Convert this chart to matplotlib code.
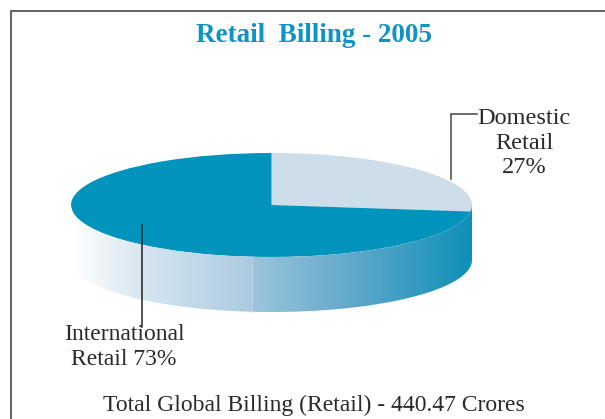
import matplotlib
matplotlib.use("Agg")
import matplotlib.pyplot as plt
import numpy as np
from matplotlib.colors import LinearSegmentedColormap
from matplotlib.patches import PathPatch
from matplotlib.path import Path

plt.rcParams['font.family'] = ['Liberation Serif', 'DejaVu Serif']

# data
shares = [27, 73]
slice_colors = ["#cddde9", "#0093bc"]
title = "Retail  Billing - 2005"
domestic_label = "Domestic\nRetail\n27%"
international_label = "International\nRetail 73%"
total_label = "Total Global Billing (Retail) - 440.47 Crores"

W, H = 605, 419
cx, cy, rx, ry = 271.5, 205, 200.5, 52
depth = 55

fig = plt.figure(figsize=(W / 100, H / 100), dpi=100)
fig.patch.set_facecolor("white")

# pie top, squashed into its own axes
ax_pie = fig.add_axes([(cx - rx) / W, 1 - (cy + ry) / H, 2 * rx / W, 2 * ry / H], zorder=1)
ax_pie.pie(shares, colors=slice_colors, startangle=90, counterclock=False, radius=1,
           wedgeprops={"linewidth": 0})
ax_pie.set_aspect("auto")
ax_pie.set_xlim(-1, 1)
ax_pie.set_ylim(-1, 1)
ax_pie.axis("off")

# everything else in pixel coords
ax = fig.add_axes([0, 0, 1, 1], zorder=2)
ax.set_xlim(0, W)
ax.set_ylim(H, 0)
ax.axis("off")

# side of the cylinder: gradient clipped to lower half of ellipse
t = np.linspace(0, np.pi, 200)
xs = cx + rx * np.cos(t)
ys = cy + ry * np.sin(t)
verts = np.vstack([np.c_[xs, ys], np.c_[xs[::-1], ys[::-1] + depth], [xs[0], ys[0]]])
codes = [Path.MOVETO] + [Path.LINETO] * (len(verts) - 2) + [Path.CLOSEPOLY]
side = PathPatch(Path(verts, codes), facecolor="none", edgecolor="none")
ax.add_patch(side)

cmap = LinearSegmentedColormap.from_list("side", [
    (0.0, "#ffffff"), (0.18, "#d6e5f0"), (0.45, "#abcbe0"), (0.452, "#9cc5dc"),
    (0.7, "#62a8ca"), (1.0, "#0e90b8")])
grad = np.linspace(0, 1, 400).reshape(1, -1)
im = ax.imshow(grad, extent=[cx - rx, cx + rx, cy + ry + depth, cy], cmap=cmap, aspect="auto", zorder=1)
im.set_clip_path(side)
ax.set_xlim(0, W)
ax.set_ylim(H, 0)

# seam on the side
ax.plot([252, 252], [257, 312], color="#c5dcea", lw=0.6, zorder=2)

# frame (open to the right and bottom)
ax.plot([11, 11, W], [H, 11.5, 11.5], color="#555555", lw=1.3, zorder=3, solid_joinstyle="miter")

# leader lines
ax.plot([451, 451, 477], [179, 114.5, 114.5], color="#444444", lw=1.1, zorder=4, solid_joinstyle="miter")
ax.plot([142, 142], [225, 327], color="#222222", lw=1.1, zorder=4)

ax.text(314.5, 36, title, color="#0d94c4", fontsize=19.5, fontweight="bold", ha="center", va="center")
ax.text(524, 143, domestic_label, color="#2a2a2a", fontsize=17.5, ha="center", va="center", linespacing=1.22)
ax.text(124, 347, international_label, color="#2a2a2a", fontsize=17, ha="center", va="center", linespacing=1.22)
ax.text(314, 405, total_label, color="#2a2a2a", fontsize=17, ha="center", va="center")

fig.savefig("out.png", dpi=100)
